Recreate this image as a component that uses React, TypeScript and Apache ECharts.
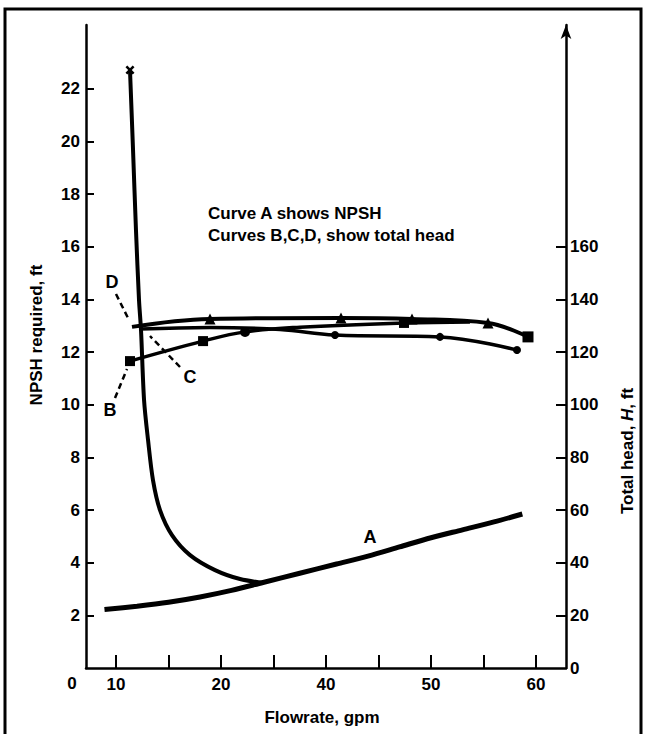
import React, { useEffect, useRef } from "react";
import * as echarts from "echarts";

// ---- Axis ticks / labels ----
const flowTicks = [20, 25, 30, 35, 40, 45, 50, 55, 60];
const flowLabelValues = [20, 30, 40, 50, 60];
const flowLabelText = ["10", "20", "40", "50", "60"];
const npshTicks = [2, 4, 6, 8, 10, 12, 14, 16, 18, 20, 22];
const headTicks = [20, 40, 60, 80, 100, 120, 140, 160];
const headLabels = [0, 20, 40, 60, 80, 100, 120, 140, 160];

// ---- Curve A (NPSH required, ft) ----
const curveAFlow = [18.9, 22, 25, 28, 31, 34, 37.5, 41, 44, 47, 50, 53, 56, 58.7];
const curveANpsh = [2.22, 2.35, 2.5, 2.7, 2.95, 3.25, 3.6, 3.95, 4.25, 4.6, 4.95, 5.25, 5.55, 5.85];

const curveALowFlow = [21.33, 21.62, 21.9, 22.19, 22.38, 22.67, 23.05, 23.52, 24.19, 25.33, 27.05, 29.43, 31.81, 34.1];
const curveALowNpsh = [22.72, 19.68, 16.64, 13.98, 12.84, 10.18, 8.66, 7.14, 6.0, 5.05, 4.29, 3.72, 3.38, 3.23];

// ---- Curves B, C, D (total head, ft) ----
const curveBFlow = [21.33, 28.29, 32.29, 37.52, 47.43, 53.71];
const curveBHead = [116.6, 124.2, 127.7, 129.5, 131.1, 131.5];

const curveCFlow = [22.29, 28.95, 35.62, 40.86, 50.86, 58.19];
const curveCHead = [128.8, 129.4, 128.6, 126.5, 125.8, 120.8];

const curveDFlow = [21.52, 28.95, 41.43, 48.19, 55.43, 59.24];
const curveDHead = [129.6, 132.6, 133.0, 132.6, 131.1, 125.8];

const FONT = '"Liberation Sans", Arial, sans-serif';
const BLACK = "#000";

const crossPath =
  "path://M0 2 L2 0 L5 3 L8 0 L10 2 L7 5 L10 8 L8 10 L5 7 L2 10 L0 8 L3 5 Z";

function pts(xs: number[], ys: number[], marks?: (string | null)[], size = 10) {
  return xs.map((x, i) => {
    const m = marks ? marks[i] : null;
    if (m) return { value: [x, ys[i]], symbol: m, symbolSize: size };
    return { value: [x, ys[i]], symbol: "none" };
  });
}

export default function App() {
  const ref = useRef<HTMLDivElement>(null);
  useEffect(() => {
    if (!ref.current) return;
    const chart = echarts.init(ref.current, null, { renderer: "svg" });
    const labelStyle = { color: BLACK, fontSize: 17, fontWeight: "bold", fontFamily: FONT };
    const tf = `bold 17px ${FONT}`;
    const center = { textAlign: "center", textVerticalAlign: "middle", align: "center", verticalAlign: "middle" };
    const option: any = {
      animation: false,
      backgroundColor: "#fff",
      grid: { left: 86, right: 80, top: 25, bottom: 66 },
      xAxis: {
        type: "value",
        min: 17.14,
        max: 62.86,
        splitLine: { show: false },
        axisLine: { lineStyle: { color: BLACK, width: 2.5 } },
        axisTick: {
          inside: true,
          length: 13,
          customValues: flowTicks,
          lineStyle: { color: BLACK, width: 2 },
        },
        axisLabel: {
          ...labelStyle,
          margin: 8,
          customValues: flowLabelValues,
          formatter: (v: number) => {
            const i = flowLabelValues.indexOf(v);
            return i >= 0 ? flowLabelText[i] : "";
          },
        },
      },
      yAxis: [
        {
          type: "value",
          min: 0,
          max: 24.43,
          position: "left",
          splitLine: { show: false },
          axisLine: { show: true, lineStyle: { color: BLACK, width: 2.5 } },
          axisTick: {
            show: true,
            inside: true,
            length: 8,
            customValues: npshTicks,
            lineStyle: { color: BLACK, width: 2 },
          },
          axisLabel: { ...labelStyle, margin: 6, customValues: npshTicks },
        },
        {
          type: "value",
          min: 0,
          max: 244.3,
          position: "right",
          splitLine: { show: false },
          axisLine: {
            show: true,
            symbol: ["none", "arrow"],
            symbolSize: [8, 14],
            lineStyle: { color: BLACK, width: 2.5 },
          },
          axisTick: {
            show: true,
            inside: true,
            length: 10,
            customValues: headTicks,
            lineStyle: { color: BLACK, width: 2 },
          },
          axisLabel: { ...labelStyle, margin: 4, customValues: headLabels },
        },
      ],
      series: [
        {
          name: "A",
          type: "line",
          yAxisIndex: 0,
          smooth: 0.3,
          symbol: "none",
          lineStyle: { color: BLACK, width: 5 },
          data: pts(curveAFlow, curveANpsh),
        },
        {
          name: "A low flow",
          type: "line",
          yAxisIndex: 0,
          smooth: 0.3,
          symbol: "none",
          showAllSymbol: true,
          itemStyle: { color: BLACK },
          lineStyle: { color: BLACK, width: 4 },
          data: pts(curveALowFlow, curveALowNpsh, [crossPath], 9),
        },
        {
          name: "C",
          type: "line",
          yAxisIndex: 1,
          smooth: 0.4,
          symbol: "none",
          showAllSymbol: true,
          itemStyle: { color: BLACK },
          lineStyle: { color: BLACK, width: 3.5 },
          data: pts(curveCFlow, curveCHead, [null, null, null, "circle", "circle", "circle"], 8),
        },
        {
          name: "B",
          type: "line",
          yAxisIndex: 1,
          smooth: 0.4,
          symbol: "none",
          showAllSymbol: true,
          itemStyle: { color: BLACK },
          lineStyle: { color: BLACK, width: 3.5 },
          data: pts(curveBFlow, curveBHead, ["rect", "rect", "circle", null, "rect", null], 10),
        },
        {
          name: "D",
          type: "line",
          yAxisIndex: 1,
          smooth: 0.4,
          symbol: "none",
          showAllSymbol: true,
          itemStyle: { color: BLACK },
          lineStyle: { color: BLACK, width: 4 },
          data: pts(curveDFlow, curveDHead, [null, "triangle", "triangle", "triangle", "triangle", "rect"], 11),
        },
      ],
      graphic: [
        {
          type: "rect",
          shape: { x: 5, y: 9, width: 636, height: 740 },
          style: { fill: "none", stroke: BLACK, lineWidth: 3 },
          silent: true,
        },
        { type: "text", x: 72, y: 683, style: { text: "0", font: tf, fill: BLACK, ...center } },
        { type: "text", x: 322, y: 717, style: { text: "Flowrate, gpm", font: tf, fill: BLACK, ...center } },
        {
          type: "text",
          x: 36,
          y: 335,
          rotation: Math.PI / 2,
          style: { text: "NPSH required, ft", font: tf, fill: BLACK, ...center },
        },
        {
          type: "text",
          x: 627,
          y: 451,
          rotation: Math.PI / 2,
          style: {
            text: "{n|Total head, }{i|H}{n|, ft}",
            fill: BLACK,
            ...center,
            rich: {
              n: { font: tf, fill: BLACK },
              i: { font: `italic bold 17px ${FONT}`, fill: BLACK },
            },
          },
        },
        {
          type: "text",
          x: 208,
          y: 213,
          style: { text: "Curve A shows NPSH", font: tf, fill: BLACK, textVerticalAlign: "middle", verticalAlign: "middle" },
        },
        {
          type: "text",
          x: 208,
          y: 235,
          style: { text: "Curves B,C,D, show total head", font: tf, fill: BLACK, textVerticalAlign: "middle", verticalAlign: "middle" },
        },
        { type: "text", x: 112, y: 282, style: { text: "D", font: `bold 18px ${FONT}`, fill: BLACK, ...center } },
        { type: "text", x: 190, y: 377, style: { text: "C", font: `bold 18px ${FONT}`, fill: BLACK, ...center } },
        { type: "text", x: 110, y: 410, style: { text: "B", font: `bold 18px ${FONT}`, fill: BLACK, ...center } },
        { type: "text", x: 370, y: 537, style: { text: "A", font: `bold 18px ${FONT}`, fill: BLACK, ...center } },
        { type: "line", shape: { x1: 116, y1: 294, x2: 129, y2: 320 }, style: { stroke: BLACK, lineWidth: 2.5, lineDash: [6, 4] } },
        { type: "line", shape: { x1: 180, y1: 367, x2: 150, y2: 336 }, style: { stroke: BLACK, lineWidth: 2.5, lineDash: [6, 4] } },
        { type: "line", shape: { x1: 115, y1: 398, x2: 127, y2: 369 }, style: { stroke: BLACK, lineWidth: 2.5, lineDash: [6, 4] } },
      ],
    };
    chart.setOption(option);
    return () => chart.dispose();
  }, []);
  return (
    <div
      ref={ref}
      style={{ position: "fixed", left: 0, top: 0, width: 646, height: 734, background: "#fff" }}
    />
  );
}
